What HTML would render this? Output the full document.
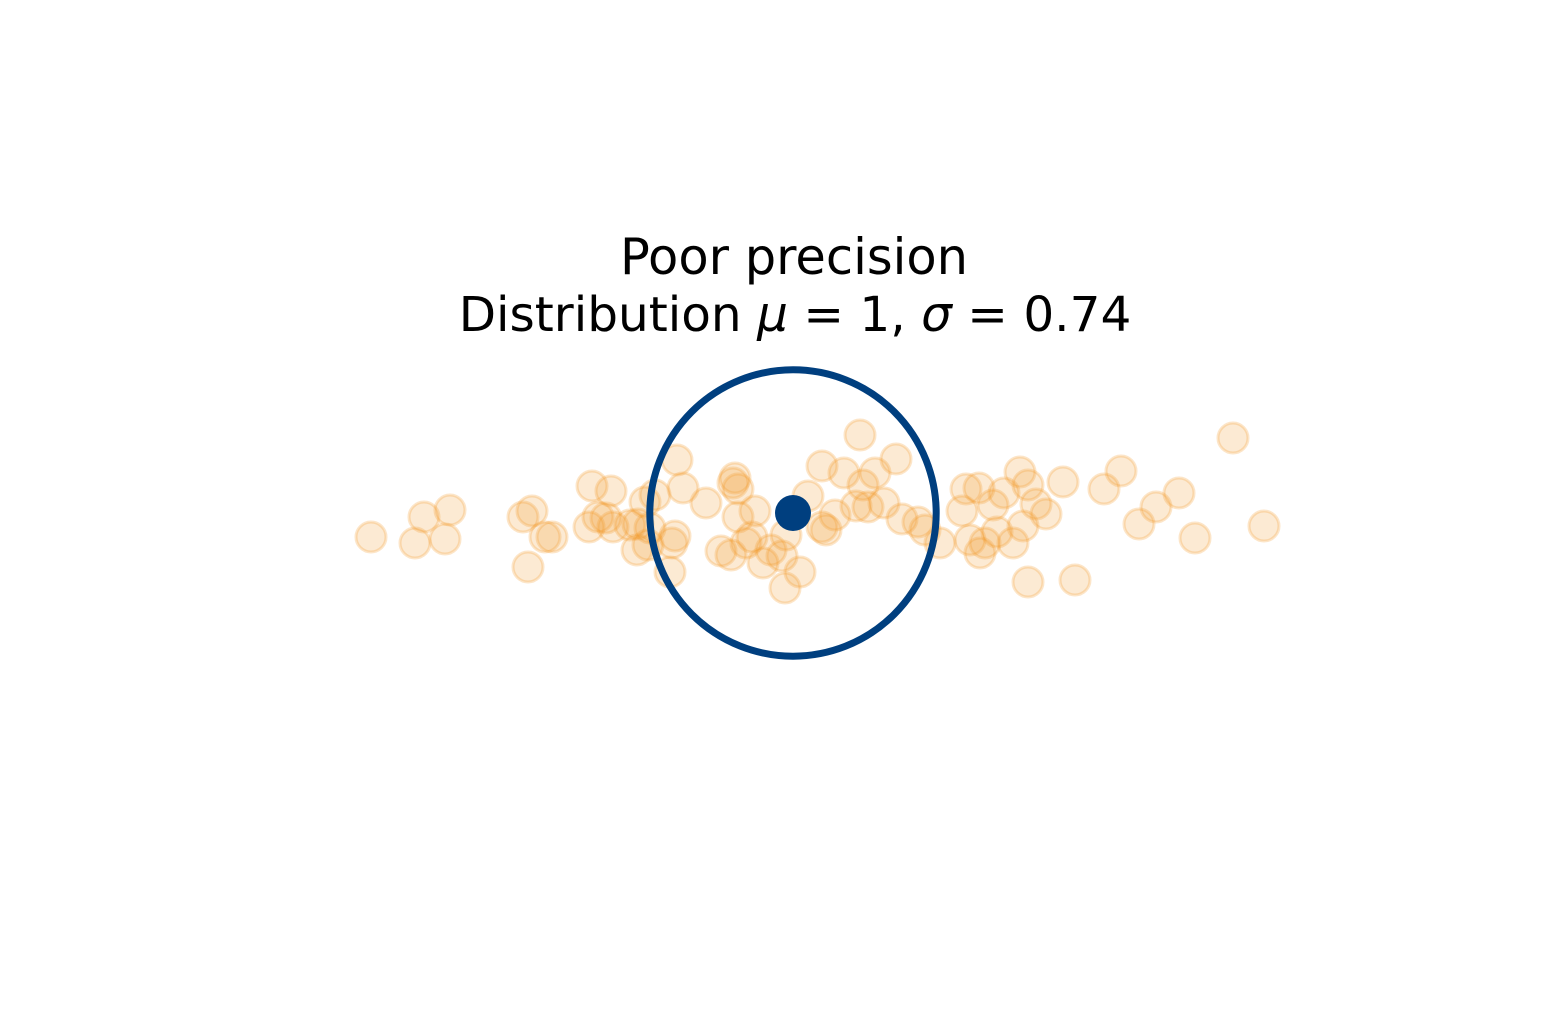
<!DOCTYPE html>
<html><head><meta charset="utf-8"><style>
body{margin:0;background:#fff}
svg{display:block}
text{font-family:"DejaVu Sans","Liberation Sans",sans-serif;fill:#000}
</style></head><body>
<svg id="chart" width="1548" height="1032" viewBox="0 0 1548 1032">
<text x="794" y="274" font-size="49.5" text-anchor="middle">Poor precision</text>
<text x="795" y="331" font-size="48.5" text-anchor="middle">Distribution <tspan font-style="italic">μ</tspan> = 1, <tspan font-style="italic">σ</tspan> = 0.74</text>
<g id="pts"></g>
<circle id="ring" fill="none" stroke="#003f7f" stroke-width="7"/>
<circle id="mu" r="18" fill="#003f7f"/>
</svg>
<script>
const mu = 1;
const sigma = 0.74;
const xs = [371,415,424,445,450,523,532,545,552,528,589,592,598,611,606,613,630,638,637,645,650,655,648,670,672,675,677,683,706,721,731,733,735,738,738,746,752,755,763,771,782,785,786,800,808,822,822,826,835,844,856,860,863,868,875,884,896,902,918,925,940,962,966,970,979,980,985,993,997,1004,1013,1020,1023,1028,1036,1046,1028,1063,1075,1104,1121,1139,1156,1179,1195,1233,1264].map(p=>+(1+(p-793)/100).toFixed(2));
const ys = [537,543,517,539,510,517,511,537,537,567,527,486,517,491,518,527,525,524,550,502,528,495,545,572,543,536,460,488,503,551,555,483,478,489,517,543,537,511,563,550,556,588,535,572,496,466,527,530,515,473,506,435,485,507,473,503,459,519,522,530,543,511,489,540,488,553,543,505,532,493,543,472,526,485,504,514,582,482,580,489,471,524,507,493,538,438,526].map(p=>+((513-p)/100).toFixed(2));
const cx = 793, cy = 513, scale = 100;
function X(v){return cx+(v-mu)*scale;}
function Y(v){return cy-v*scale;}
const ns="http://www.w3.org/2000/svg";
const g=document.getElementById('pts');
for(let i=0;i<xs.length;i++){
  const c=document.createElementNS(ns,'circle');
  c.setAttribute('cx',X(xs[i]));c.setAttribute('cy',Y(ys[i]));c.setAttribute('r',15);
  c.setAttribute('fill','rgba(242,150,35,0.2)');c.setAttribute('stroke','rgba(242,150,35,0.25)');c.setAttribute('stroke-width','3');
  
  
  g.appendChild(c);
}
const ring=document.getElementById('ring');
ring.setAttribute('cx',X(mu));ring.setAttribute('cy',Y(0));ring.setAttribute('r',sigma*193.5);
const m=document.getElementById('mu');
m.setAttribute('cx',X(mu));m.setAttribute('cy',Y(0));
</script>
</body></html>
